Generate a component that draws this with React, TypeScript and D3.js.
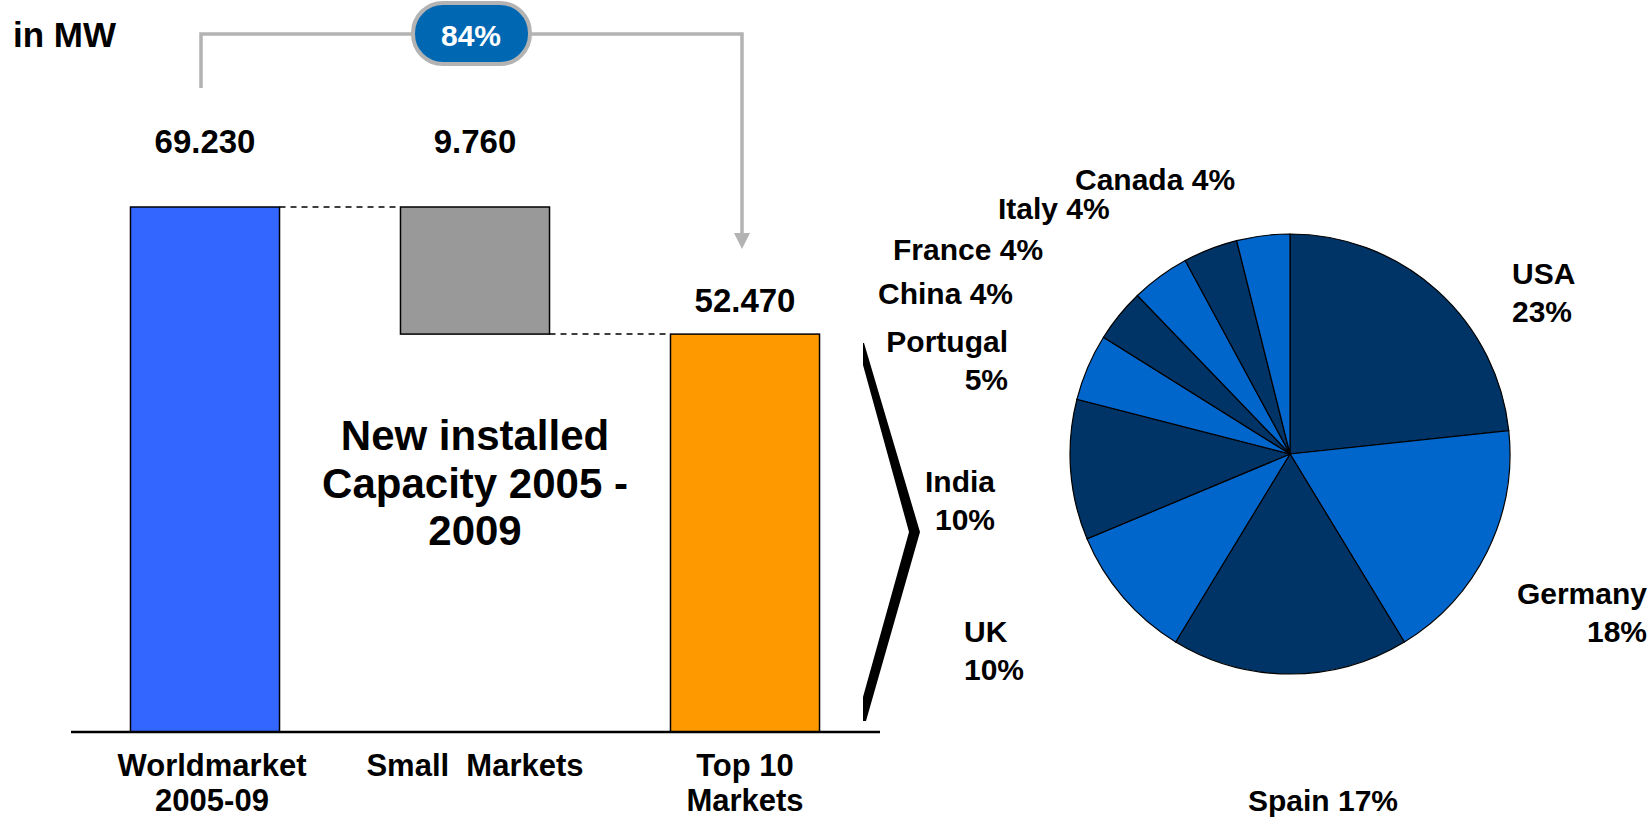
import React from "react";
import * as d3 from "d3";

// ---- Waterfall data ----
const barCategories = ["Worldmarket\n2005-09", "Small  Markets", "Top 10\nMarkets"];
const barKinds = ["total", "decrease", "total"];
const barValues = [69230, 16760, 52470];
const barValueLabels = ["69.230", "9.760", "52.470"];
const shareLabel = "84%";
const unitLabel = "in MW";
const centerNote = ["New installed", "Capacity 2005 -", "2009"];

// ---- Pie data ----
const pieCountries = ["USA", "Germany", "Spain", "UK", "India", "Portugal", "China", "France", "Italy", "Canada"];
const pieShares = [23.3, 18.0, 17.4, 10.0, 10.3, 4.9, 3.9, 4.3, 4.0, 3.9];
const pieLabelLines = [
  ["USA", "23%"],
  ["Germany", "18%"],
  ["Spain 17%"],
  ["UK", "10%"],
  ["India", "10%"],
  ["Portugal", "5%"],
  ["China 4%"],
  ["France 4%"],
  ["Italy 4%"],
  ["Canada 4%"],
];

// ---- Layout (positions/styles, not data) ----
const W = 1652;
const H = 818;
const FONT = "'Liberation Sans', Arial, Helvetica, sans-serif";
const barColors = ["#3366FF", "#999999", "#FF9900"];
const pieColors = ["#003366", "#0066CC"];
const pieLabelLayout = [
  { x: 1512, y: 284, anchor: "start" },
  { x: 1647, y: 604, anchor: "end" },
  { x: 1323, y: 811, anchor: "middle" },
  { x: 964, y: 642, anchor: "start" },
  { x: 995, y: 492, anchor: "end" },
  { x: 1008, y: 352, anchor: "end" },
  { x: 878, y: 304, anchor: "start" },
  { x: 893, y: 260, anchor: "start" },
  { x: 998, y: 219, anchor: "start" },
  { x: 1075, y: 190, anchor: "start" },
];

export default function App() {
  const x = d3
    .scaleBand<string>()
    .domain(barCategories)
    .range([70, 880])
    .paddingInner(0.448)
    .paddingOuter(0.224);
  const y = d3.scaleLinear().domain([0, barValues[0]]).range([732, 207]);

  const bars = barCategories.map((c, i) => {
    let lo: number, hi: number;
    if (barKinds[i] === "total") {
      lo = 0;
      hi = barValues[i];
    } else {
      hi = barValues[0];
      lo = barValues[0] - barValues[i];
    }
    return { c, i, lo, hi };
  });

  const bw = x.bandwidth();

  const pie = d3
    .pie<number>()
    .sort(null)
    .value((d) => d)
    .startAngle(0)
    .endAngle(2 * Math.PI);
  const arcs = pie(pieShares);
  const arc = d3.arc<d3.PieArcDatum<number>>().innerRadius(0).outerRadius(220);
  const cx = 1290;
  const cy = 454;

  const worldX = (x(barCategories[0]) as number) + bw / 2;
  const topX = (x(barCategories[2]) as number) + bw / 2;
  const connY = 34;
  const bubbleCx = (x(barCategories[1]) as number) + bw / 2 - 4;

  const braceX = 864;
  const braceTop = 343;
  const braceBot = 721;
  const braceMid = (braceTop + braceBot) / 2;

  const bracePts = [
    [braceX, braceTop],
    [braceX + 56, braceMid],
    [braceX + 2, braceBot],
    [braceX - 1, braceBot],
    [braceX - 1, braceBot - 24],
    [braceX + 45, braceMid],
    [braceX - 1, braceTop + 22],
    [braceX - 1, braceTop],
  ];

  const catX = (c: string) => (x(c) as number) + bw / 2 + (c.startsWith("World") ? 7 : 0);

  return (
    <svg
      width={W}
      height={H}
      style={{ position: "absolute", left: 0, top: 0, display: "block", background: "#fff" }}
      fontFamily={FONT}
      fontWeight="bold"
    >
      <text x={13} y={47} fontSize={35} fill="#000">
        {unitLabel}
      </text>

      {/* connector */}
      <path
        d={`M${worldX - 4},88 V${connY} H${topX - 3} V234`}
        fill="none"
        stroke="#B3B3B3"
        strokeWidth={3.5}
      />
      <polygon points={`${topX - 11},233 ${topX + 5},233 ${topX - 3},249`} fill="#B3B3B3" />
      <rect
        x={bubbleCx - 58}
        y={3}
        width={117}
        height={61}
        rx={30}
        ry={30}
        fill="#0068B3"
        stroke="#B3B3B3"
        strokeWidth={4}
      />
      <text x={bubbleCx} y={46} fontSize={30} fill="#fff" textAnchor="middle">
        {shareLabel}
      </text>

      {/* bars */}
      {bars.map((b) => (
        <rect
          key={b.c}
          x={x(b.c)}
          y={y(b.hi)}
          width={bw}
          height={y(b.lo) - y(b.hi)}
          fill={barColors[b.i]}
          stroke="#000"
          strokeWidth={1.5}
        />
      ))}

      {/* dashed connectors */}
      {bars.slice(0, -1).map((b, i) => {
        const next = bars[i + 1];
        const level = i === 0 ? b.hi : b.lo;
        return (
          <line
            key={"d" + i}
            x1={(x(b.c) as number) + bw}
            x2={x(next.c) as number}
            y1={y(level)}
            y2={y(level)}
            stroke="#000"
            strokeWidth={1.5}
            strokeDasharray="6,5"
          />
        );
      })}

      {/* value labels */}
      {bars.map((b) => (
        <text
          key={"v" + b.c}
          x={(x(b.c) as number) + bw / 2}
          y={b.i === 2 ? y(b.hi) - 22 : y(barValues[0]) - 54}
          fontSize={33}
          textAnchor="middle"
          fill="#000"
        >
          {barValueLabels[b.i]}
        </text>
      ))}

      {/* baseline */}
      <line x1={71} x2={880} y1={732} y2={732} stroke="#000" strokeWidth={2.5} />

      {/* category labels */}
      {barCategories.map((c) => (
        <text
          key={"c" + c}
          x={catX(c)}
          y={776}
          fontSize={31}
          textAnchor="middle"
          fill="#000"
          style={{ whiteSpace: "pre" }}
        >
          {c.split("\n").map((line, k) => (
            <tspan key={k} x={catX(c)} dy={k === 0 ? 0 : 35}>
              {line}
            </tspan>
          ))}
        </text>
      ))}

      {/* center note */}
      <text x={(x(barCategories[1]) as number) + bw / 2} y={450} fontSize={42} textAnchor="middle" fill="#000">
        {centerNote.map((line, k) => (
          <tspan key={k} x={(x(barCategories[1]) as number) + bw / 2} dy={k === 0 ? 0 : 47.5}>
            {line}
          </tspan>
        ))}
      </text>

      {/* brace */}
      <polygon points={bracePts.map((p) => p.join(",")).join(" ")} fill="#000" />

      {/* pie */}
      <g transform={`translate(${cx},${cy})`}>
        {arcs.map((a, i) => (
          <path
            key={pieCountries[i]}
            d={arc(a) as string}
            fill={pieColors[i % 2]}
            stroke="#000"
            strokeWidth={1.2}
          />
        ))}
      </g>

      {/* pie labels */}
      {pieLabelLines.map((lines, i) => (
        <text
          key={"p" + i}
          x={pieLabelLayout[i].x}
          y={pieLabelLayout[i].y}
          fontSize={30}
          textAnchor={pieLabelLayout[i].anchor as any}
          fill="#000"
        >
          {lines.map((ln, k) => (
            <tspan key={k} x={pieLabelLayout[i].x} dy={k === 0 ? 0 : 37.5}>
              {ln}
            </tspan>
          ))}
        </text>
      ))}
    </svg>
  );
}
